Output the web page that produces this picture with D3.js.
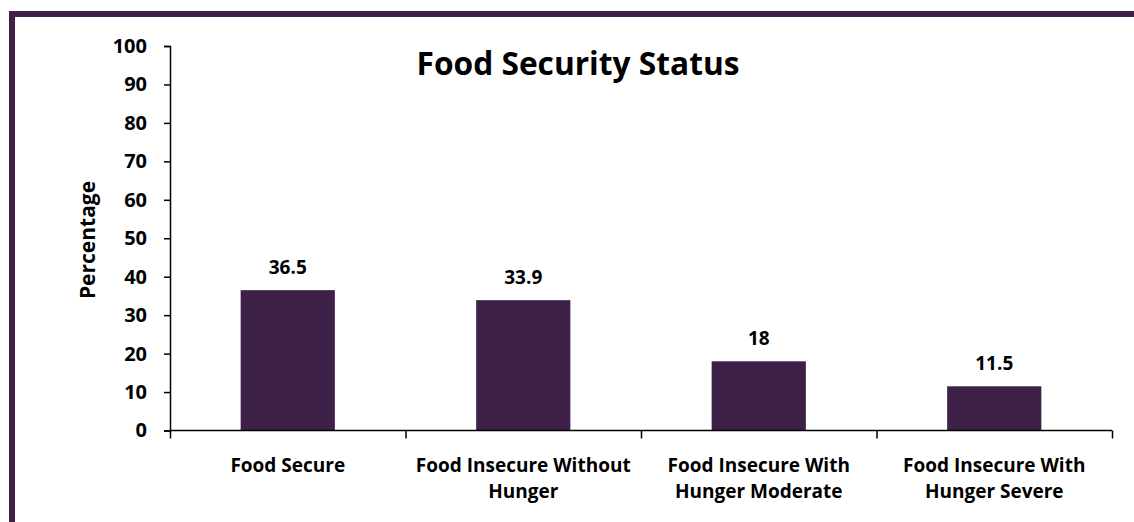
<!DOCTYPE html>
<html>
<head>
<meta charset="utf-8">
<script src="https://cdn.jsdelivr.net/npm/d3@7"></script>
<style>
  body { margin: 0; background: #fff; }
  svg text { font-family: "Open Sans", sans-serif; font-weight: bold; fill: #000; }
</style>
</head>
<body>
<div id="chart"></div>
<script>
// chart data
var categories = ["Food Secure", "Food Insecure Without Hunger", "Food Insecure With Hunger Moderate", "Food Insecure With Hunger Severe"];
var catLines = [["Food Secure"], ["Food Insecure Without", "Hunger"], ["Food Insecure With", "Hunger Moderate"], ["Food Insecure With", "Hunger Severe"]];
var values = [36.5, 33.9, 18, 11.5];
var yTicks = [0, 10, 20, 30, 40, 50, 60, 70, 80, 90, 100];

var W = 1134, H = 522;
var purple = "#3e2149";

var svg = d3.select("#chart").append("svg")
    .attr("width", W)
    .attr("height", H);

// frame bands (top and left)
svg.append("rect").attr("x", 9).attr("y", 11).attr("width", W - 9).attr("height", 6).attr("fill", purple);
svg.append("rect").attr("x", 9).attr("y", 11).attr("width", 6).attr("height", H - 11).attr("fill", purple);

var x = d3.scaleBand()
    .domain(categories)
    .range([170, 1112])
    .paddingInner(0.6)
    .paddingOuter(0.3);

var y = d3.scaleLinear()
    .domain([0, 100])
    .range([430.5, 46]);

// bars
svg.selectAll("rect.bar")
    .data(values)
    .enter()
    .append("rect")
    .attr("class", "bar")
    .attr("x", function (d, i) { return x(categories[i]); })
    .attr("y", function (d) { return y(d); })
    .attr("width", x.bandwidth())
    .attr("height", function (d) { return y(0) - y(d); })
    .attr("fill", purple);

// value labels
svg.selectAll("text.val")
    .data(values)
    .enter()
    .append("text")
    .attr("class", "val")
    .attr("x", function (d, i) { return x(categories[i]) + x.bandwidth() / 2; })
    .attr("y", function (d) { return y(d) - 16; })
    .attr("text-anchor", "middle")
    .attr("font-size", "19px")
    .text(function (d) { return d; });

// y axis
var yAxis = svg.append("g")
    .attr("transform", "translate(170,0)")
    .call(d3.axisLeft(y).tickValues(yTicks).tickSize(6).tickPadding(17));
yAxis.select(".domain").attr("stroke", "#000").attr("stroke-width", 1.5);
yAxis.selectAll(".tick line").attr("stroke", "#000").attr("stroke-width", 1.5);
yAxis.selectAll(".tick text")
    .attr("font-size", "20px")
    .attr("font-family", "'Open Sans', sans-serif")
    .attr("font-weight", "bold")
    .attr("fill", "#000");

// x axis line with boundary ticks
var xAxisLine = d3.scaleLinear().domain([0, categories.length]).range([170, 1112]);
var xAxis = svg.append("g")
    .attr("transform", "translate(0," + y(0) + ")")
    .call(d3.axisBottom(xAxisLine).ticks(4).tickSize(8).tickFormat(""));
xAxis.select(".domain").attr("stroke", "#000").attr("stroke-width", 1.5)
    .attr("d", "M170,0H1112");
xAxis.selectAll(".tick line").attr("stroke", "#000").attr("stroke-width", 1.5);

// category labels
var catG = svg.selectAll("text.cat")
    .data(catLines)
    .enter()
    .append("text")
    .attr("class", "cat")
    .attr("text-anchor", "middle")
    .attr("font-size", "19px")
    .attr("x", function (d, i) { return x(categories[i]) + x.bandwidth() / 2; })
    .attr("y", 472);
catG.selectAll("tspan")
    .data(function (d) { return d; })
    .enter()
    .append("tspan")
    .attr("x", function () { return d3.select(this.parentNode).attr("x"); })
    .attr("dy", function (d, i) { return i === 0 ? 0 : 26; })
    .text(function (d) { return d; });

// y axis title
svg.append("text")
    .attr("transform", "translate(95,240) rotate(-90)")
    .attr("text-anchor", "middle")
    .attr("font-size", "21px")
    .text("Percentage");

// chart title
svg.append("text")
    .attr("x", 578)
    .attr("y", 75)
    .attr("text-anchor", "middle")
    .attr("font-size", "31.7px")
    .text("Food Security Status");
</script>
</body>
</html>
